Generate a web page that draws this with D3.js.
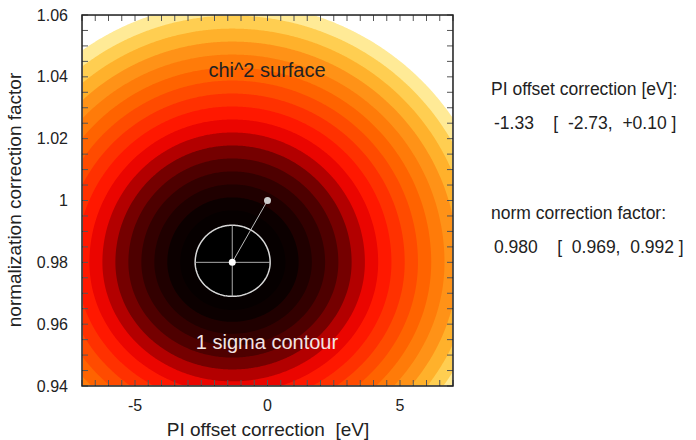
<!DOCTYPE html>
<html>
<head>
<meta charset="utf-8">
<script src="https://cdn.jsdelivr.net/npm/d3@7"></script>
<style>
    body { margin: 0; background: #fff; }
    text { font-family: "Liberation Sans", Arial, sans-serif; white-space: pre; }
</style>
</head>
<body>
<div id="chart"></div>
<script>
/*------------------- Data --------------------*/
const xDomain = [-7, 7];
const yDomain = [0.94, 1.06];
const xTicks = [-5, 0, 5];
const yTicks = [0.94, 0.96, 0.98, 1.00, 1.02, 1.04, 1.06];
const yTickLabels = ["0.94", "0.96", "0.98", "1", "1.02", "1.04", "1.06"];

const bestFit = { pi: -1.33, norm: 0.980 };
const piInterval = [-2.73, 0.10];
const normInterval = [0.969, 0.992];
const startPoint = { pi: 0, norm: 1.0 };

// contour levels of the surface, in sigma units
const sigmaLevels = [1.0, 1.4, 1.75, 2.1, 2.45, 2.8, 3.15, 3.5, 3.85, 4.2, 4.55, 4.9,
    5.25, 5.6, 5.95, 6.3, 6.65, 7.0];

const infoLines = [
    "PI offset correction [eV]:",
    "-1.33    [  -2.73,  +0.10 ]",
    "norm correction factor:",
    "0.980    [  0.969,  0.992 ]"
];

/*------------------- Layout --------------------*/
const width = 696, height = 440;
const plot = { left: 82, top: 15, right: 453, bottom: 386 };

const svg = d3.select("#chart").append("svg")
    .attr("width", width)
    .attr("height", height);

const x = d3.scaleLinear().domain(xDomain).range([plot.left, plot.right]);
const y = d3.scaleLinear().domain(yDomain).range([plot.bottom, plot.top]);

/*------------------- Surface --------------------*/
const nx = 300, ny = 300;
const pw = plot.right - plot.left, ph = plot.bottom - plot.top;

// distance from best fit in sigma units (asymmetric errors)
function sigmaDist(pi, norm) {
    const dx = pi - bestFit.pi, dy = norm - bestFit.norm;
    const sx = dx < 0 ? bestFit.pi - piInterval[0] : piInterval[1] - bestFit.pi;
    const sy = dy < 0 ? bestFit.norm - normInterval[0] : normInterval[1] - bestFit.norm;
    return Math.sqrt((dx / sx) ** 2 + (dy / sy) ** 2);
}

const grid = new Array(nx * ny);
for (let j = 0; j < ny; j++) {
    for (let i = 0; i < nx; i++) {
        const pi = x.invert(plot.left + (i + 0.5) * pw / nx);
        const norm = y.invert(plot.top + (j + 0.5) * ph / ny);
        grid[j * nx + i] = sigmaDist(pi, norm);
    }
}

const gridPath = d3.geoPath(d3.geoTransform({
    point: function (gx, gy) {
        this.stream.point(plot.left + gx * pw / nx, plot.top + gy * ph / ny);
    }
}));

// palette: black -> dark red -> red -> orange -> pale yellow -> white
const color = d3.scaleLinear()
    .domain([0, 1.5, 2.5, 3.0, 3.4, 3.8, 4.3, 4.8, 5.2, 5.8, 6.2, 6.6, 6.9, 7.1])
    .range(["#000000", "#080000", "#400000", "#780000", "#c00000", "#ff0800", "#ff2c00",
        "#ff5000", "#ff6c00", "#ff9418", "#ffb830", "#ffd860", "#fff0a8", "#ffffff"])
    .clamp(true);

svg.append("clipPath").attr("id", "plotClip")
    .append("rect")
    .attr("x", plot.left).attr("y", plot.top)
    .attr("width", pw).attr("height", ph);

const surface = svg.append("g").attr("clip-path", "url(#plotClip)");

surface.append("rect")
    .attr("x", plot.left).attr("y", plot.top)
    .attr("width", pw).attr("height", ph)
    .attr("fill", "#000");

const bands = d3.contours().size([nx, ny]).thresholds(sigmaLevels)(grid);

surface.selectAll("path.band")
    .data(bands)
    .join("path")
    .attr("class", "band")
    .attr("d", gridPath)
    .attr("fill", (d, i) => {
        const next = sigmaLevels[i + 1];
        const mid = next === undefined ? 8 : (d.value + next) / 2;
        return color(mid);
    });

/*------------------- Overlay --------------------*/
// 1 sigma contour
const oneSigma = d3.contours().size([nx, ny]).thresholds([1])(grid);
surface.selectAll("path.sigma")
    .data(oneSigma)
    .join("path")
    .attr("class", "sigma")
    .attr("d", gridPath)
    .attr("fill", "none")
    .attr("stroke", "#d8d8d8")
    .attr("stroke-width", 1.5);

surface.append("line")
    .attr("x1", x(piInterval[0])).attr("x2", x(piInterval[1]))
    .attr("y1", y(bestFit.norm)).attr("y2", y(bestFit.norm))
    .attr("stroke", "#aaa").attr("stroke-width", 1);
surface.append("line")
    .attr("x1", x(bestFit.pi)).attr("x2", x(bestFit.pi))
    .attr("y1", y(normInterval[0])).attr("y2", y(normInterval[1]))
    .attr("stroke", "#aaa").attr("stroke-width", 1);

surface.append("line")
    .attr("x1", x(startPoint.pi)).attr("y1", y(startPoint.norm))
    .attr("x2", x(bestFit.pi)).attr("y2", y(bestFit.norm))
    .attr("stroke", "#bbb").attr("stroke-width", 1);

surface.append("circle")
    .attr("cx", x(startPoint.pi)).attr("cy", y(startPoint.norm))
    .attr("r", 3.5).attr("fill", "#ccc");
surface.append("circle")
    .attr("cx", x(bestFit.pi)).attr("cy", y(bestFit.norm))
    .attr("r", 3.5).attr("fill", "#fff");

surface.append("text")
    .attr("x", 267).attr("y", 77)
    .attr("text-anchor", "middle")
    .attr("font-size", 20)
    .attr("fill", "#222")
    .text("chi^2 surface");

surface.append("text")
    .attr("x", 267).attr("y", 349)
    .attr("text-anchor", "middle")
    .attr("font-size", 20)
    .attr("fill", "#f2e4e4")
    .text("1 sigma contour");

/*------------------- Axes --------------------*/
const axes = svg.append("g");
const minorX = d3.range(-7, 7.01, 0.5);
const minorY = d3.range(0, 25).map(k => 0.94 + k * 0.005);

// minor ticks on all four sides
axes.selectAll("line.mx")
    .data(minorX)
    .join("line")
    .attr("class", "mx")
    .attr("x1", d => x(d)).attr("x2", d => x(d))
    .attr("y1", plot.bottom).attr("y2", plot.bottom - 6)
    .attr("stroke", "#555");
axes.selectAll("line.mxt")
    .data(minorX)
    .join("line")
    .attr("class", "mxt")
    .attr("x1", d => x(d)).attr("x2", d => x(d))
    .attr("y1", plot.top).attr("y2", plot.top + 6)
    .attr("stroke", "#555");
axes.selectAll("line.my")
    .data(minorY)
    .join("line")
    .attr("class", "my")
    .attr("y1", d => y(d)).attr("y2", d => y(d))
    .attr("x1", plot.left).attr("x2", plot.left + 6)
    .attr("stroke", "#555");
axes.selectAll("line.myr")
    .data(minorY)
    .join("line")
    .attr("class", "myr")
    .attr("y1", d => y(d)).attr("y2", d => y(d))
    .attr("x1", plot.right).attr("x2", plot.right - 6)
    .attr("stroke", "#555");

axes.append("rect")
    .attr("x", plot.left).attr("y", plot.top)
    .attr("width", pw).attr("height", ph)
    .attr("fill", "none")
    .attr("stroke", "#222")
    .attr("stroke-width", 1.5);

axes.selectAll("text.xt")
    .data(xTicks)
    .join("text")
    .attr("class", "xt")
    .attr("x", d => x(d))
    .attr("y", 411)
    .attr("text-anchor", "middle")
    .attr("font-size", 16)
    .attr("fill", "#222")
    .text(d => d);

axes.selectAll("text.yt")
    .data(yTicks)
    .join("text")
    .attr("class", "yt")
    .attr("x", 68)
    .attr("y", d => y(d) + 5.5)
    .attr("text-anchor", "end")
    .attr("font-size", 16)
    .attr("fill", "#222")
    .text((d, i) => yTickLabels[i]);

svg.append("text")
    .attr("x", 268).attr("y", 436)
    .attr("text-anchor", "middle")
    .attr("font-size", 19)
    .attr("fill", "#222")
    .text("PI offset correction  [eV]");

svg.append("text")
    .attr("transform", "translate(21,200) rotate(-90)")
    .attr("text-anchor", "middle")
    .attr("font-size", 19)
    .attr("fill", "#222")
    .text("normalization correction factor");

/*------------------- Info panel --------------------*/
const infoY = [95, 129, 219, 253];
svg.selectAll("text.info")
    .data(infoLines)
    .join("text")
    .attr("class", "info")
    .attr("x", (d, i) => i % 2 === 0 ? 491 : 494)
    .attr("y", (d, i) => infoY[i])
    .attr("font-size", 17.5)
    .attr("fill", "#222")
    .text(d => d);
</script>
</body>
</html>
